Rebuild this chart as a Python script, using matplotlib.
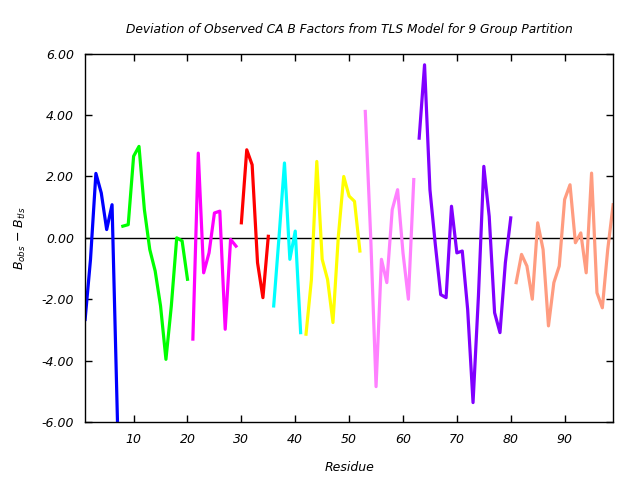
"""
Deviation of observed CA B factors from the TLS model, 9 group partition.
One line per TLS group, coloured per group.
"""

import matplotlib
matplotlib.use("Agg")

import matplotlib.pyplot as plt
from matplotlib.ticker import FixedLocator, FormatStrFormatter


# -----------------------------------------------------------------------------
# Data (B_obs - B_tls per residue, one list per group)
# -----------------------------------------------------------------------------
group_start = [1, 8, 21, 30, 36, 42, 53, 63, 81]

group_colors = ["#0000ff", "#00ff00", "#ff00ff", "#ff0000", "#00ffff",
                "#ffff00", "#ff80ff", "#8000ff", "#ff9c80"]

g1 = [-2.66, -0.70, 2.10, 1.46, 0.27, 1.08, -5.95]
g2 = [0.38, 0.43, 2.66, 2.98, 0.92, -0.38, -1.08, -2.22, -3.96, -2.22,
      0.00, -0.10, -1.35]
g3 = [-3.30, 2.76, -1.14, -0.49, 0.81, 0.87, -2.98, -0.05, -0.27]
g4 = [0.49, 2.87, 2.38, -0.81, -1.95, 0.05]
g5 = [-2.22, 0.05, 2.44, -0.70, 0.22, -3.09]
g6 = [-3.14, -1.36, 2.49, -0.70, -1.36, -2.76, 0.05, 2.00, 1.36, 1.19,
      -0.43]
g7 = [4.12, 0.05, -4.85, -0.70, -1.46, 0.92, 1.57, -0.49, -2.00, 1.90]
g8 = [3.25, 5.64, 1.57, -0.22, -1.85, -1.95, 1.03, -0.49, -0.43, -2.33,
      -5.37, -1.90, 2.33, 0.70, -2.44, -3.09, -0.81, 0.65]
g9 = [-1.46, -0.54, -0.92, -2.00, 0.49, -0.38, -2.87, -1.46, -0.92, 1.25,
      1.73, -0.16, 0.16, -1.14, 2.11, -1.79, -2.28, -0.38, 1.08]

groups = [g1, g2, g3, g4, g5, g6, g7, g8, g9]

x_ticks = [10, 20, 30, 40, 50, 60, 70, 80, 90]
y_ticks = [-6, -4, -2, 0, 2, 4, 6]


# -----------------------------------------------------------------------------
# Plot
# -----------------------------------------------------------------------------
plt.rcParams["font.family"] = "DejaVu Sans"
plt.rcParams["font.style"] = "italic"
plt.rcParams["mathtext.fontset"] = "dejavusans"
plt.rcParams["mathtext.default"] = "it"

fig = plt.figure(figsize=(6.4, 4.8), dpi=100)
ax = fig.add_axes([0.133, 0.121, 0.825, 0.767])

for start, vals, col in zip(group_start, groups, group_colors):
    res = list(range(start, start + len(vals)))
    ax.plot(res, vals, color=col, lw=2.3, clip_on=True)

ax.axhline(0, color="black", lw=1.0, zorder=0)

ax.set_xlim(1, 99)
ax.set_ylim(-6, 6)
ax.xaxis.set_major_locator(FixedLocator(x_ticks))
ax.yaxis.set_major_locator(FixedLocator(y_ticks))
ax.yaxis.set_major_formatter(FormatStrFormatter("%.2f"))
ax.tick_params(direction="in", top=True, right=True, length=5, width=1,
               labelsize=9, pad=8)
for s in ax.spines.values():
    s.set_linewidth(1.0)

ax.set_title("Deviation of Observed CA B Factors from TLS Model for 9 Group Partition",
             fontsize=8.8, pad=15)
ax.set_xlabel("Residue", fontsize=9, labelpad=11)
ax.set_ylabel(r"$B_{obs}$ $-$ $B_{tls}$", fontsize=9, labelpad=10)

fig.savefig("out.png", dpi=100)
